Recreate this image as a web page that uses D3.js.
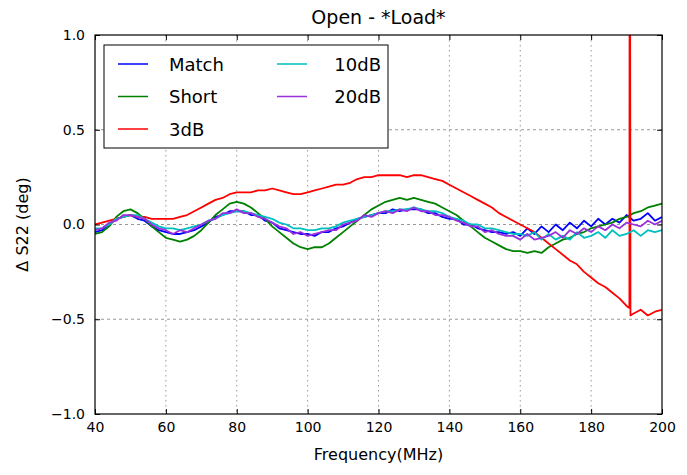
<!DOCTYPE html>
<html>
<head>
<meta charset="utf-8">
<script src="https://cdn.jsdelivr.net/npm/d3@7"></script>
<style>
  body { margin: 0; background: #fff; }
  svg text { font-family: "DejaVu Sans", sans-serif; fill: #000; }
</style>
</head>
<body>
<div class="chart"></div>
<script>
// sample grid, MHz
var freqs = d3.range(40, 201, 2);

var match = [
  -0.04,-0.03,0.00,0.03,0.04,0.05,0.03,0.02,-0.01,-0.03,
  -0.04,-0.05,-0.05,-0.04,-0.03,-0.01,0.01,0.04,0.05,0.07,
  0.07,0.07,0.05,0.05,0.02,0.01,-0.02,-0.03,-0.04,-0.05,
  -0.05,-0.06,-0.04,-0.04,-0.02,-0.01,0.01,0.03,0.04,0.05,
  0.06,0.06,0.08,0.07,0.08,0.08,0.08,0.06,0.06,0.04,
  0.03,0.03,0.00,0.00,-0.02,-0.03,-0.04,-0.04,-0.05,-0.04,
  -0.06,-0.02,-0.05,-0.01,-0.04,0.00,-0.03,0.01,-0.02,0.02,
  -0.01,0.03,0.00,0.03,0.01,0.05,0.02,0.03,0.06,0.02,
  0.04
];
var short = [
  -0.05,-0.04,-0.01,0.04,0.07,0.08,0.06,0.03,-0.01,-0.04,
  -0.07,-0.08,-0.09,-0.08,-0.06,-0.03,0.01,0.05,0.08,0.11,
  0.12,0.11,0.09,0.06,0.03,-0.01,-0.04,-0.07,-0.10,-0.12,
  -0.13,-0.12,-0.12,-0.10,-0.07,-0.04,-0.01,0.02,0.05,0.08,
  0.10,0.12,0.13,0.14,0.13,0.14,0.13,0.12,0.11,0.09,
  0.07,0.05,0.02,-0.01,-0.04,-0.07,-0.09,-0.11,-0.13,-0.14,
  -0.14,-0.15,-0.14,-0.15,-0.12,-0.10,-0.08,-0.07,-0.05,-0.04,
  -0.02,-0.01,0.00,0.01,0.03,0.04,0.06,0.07,0.09,0.10,
  0.11
];
var db3 = [
  0.00,0.01,0.02,0.03,0.04,0.05,0.04,0.04,0.03,0.03,
  0.03,0.03,0.04,0.05,0.07,0.09,0.11,0.13,0.14,0.16,
  0.17,0.17,0.17,0.18,0.18,0.19,0.18,0.17,0.16,0.16,
  0.17,0.18,0.19,0.20,0.21,0.21,0.22,0.24,0.25,0.25,
  0.26,0.26,0.26,0.26,0.25,0.26,0.26,0.25,0.24,0.23,
  0.21,0.19,0.17,0.15,0.13,0.11,0.09,0.06,0.04,0.02,
  0.00,-0.02,-0.04,-0.07,-0.10,-0.13,-0.16,-0.19,-0.21,-0.25,
  -0.28,-0.31,-0.33,-0.36,-0.39,-0.43,-0.47,-0.45,-0.48,-0.46,
  -0.45
];
var db10 = [
  -0.02,-0.02,0.00,0.03,0.04,0.05,0.05,0.03,0.01,-0.01,
  -0.02,-0.02,-0.03,-0.02,-0.01,0.00,0.02,0.03,0.05,0.06,
  0.07,0.07,0.06,0.05,0.04,0.03,0.01,0.00,-0.02,-0.02,
  -0.03,-0.03,-0.02,-0.02,-0.01,0.01,0.02,0.03,0.04,0.05,
  0.06,0.07,0.07,0.08,0.08,0.09,0.08,0.07,0.07,0.06,
  0.04,0.03,0.02,0.00,0.00,-0.02,-0.02,-0.03,-0.04,-0.05,
  -0.05,-0.06,-0.04,-0.08,-0.05,-0.08,-0.06,-0.08,-0.04,-0.07,
  -0.06,-0.04,-0.07,-0.03,-0.06,-0.05,-0.03,-0.06,-0.03,-0.04,
  -0.03
];
var db20 = [
  -0.03,-0.02,0.01,0.02,0.05,0.05,0.04,0.03,0.00,-0.02,
  -0.03,-0.05,-0.03,-0.04,-0.02,0.00,0.02,0.03,0.06,0.06,
  0.08,0.06,0.06,0.04,0.03,0.01,-0.01,-0.02,-0.05,-0.04,
  -0.06,-0.05,-0.04,-0.03,-0.03,0.00,0.01,0.02,0.05,0.04,
  0.06,0.07,0.06,0.08,0.07,0.09,0.07,0.07,0.05,0.05,
  0.04,0.02,0.01,-0.01,-0.01,-0.04,-0.03,-0.05,-0.06,-0.06,
  -0.08,-0.05,-0.08,-0.07,-0.06,-0.04,-0.07,-0.03,-0.05,-0.02,
  -0.04,-0.01,-0.03,0.00,-0.02,0.01,0.00,-0.01,0.02,0.00,
  0.02
];
// the glitch in the 3dB trace near 191 MHz
var spikeFreq = [190.8, 190.9, 191.1];
var spikeVals = [-0.44, 3.0, -0.48];

var seriesNames = ['Match', 'Short', '3dB', '10dB', '20dB'];
var seriesColors = ['#0000ff', '#008000', '#ff0000', '#00bfbf', '#9a2fdc'];
var xTicks = [40, 60, 80, 100, 120, 140, 160, 180, 200];
var yTicks = [-1.0, -0.5, 0.0, 0.5, 1.0];

var width = 687, height = 475,
    margin = { top: 35, right: 25, bottom: 61, left: 95 },
    innerW = width - margin.left - margin.right,
    innerH = height - margin.top - margin.bottom;

var svg = d3.select('.chart').append('svg')
    .attr('width', width)
    .attr('height', height);

var x = d3.scaleLinear().domain([40, 200]).range([0, innerW]);
var y = d3.scaleLinear().domain([-1, 1]).range([innerH, 0]);

var g = svg.append('g')
    .attr('transform', 'translate(' + margin.left + ',' + margin.top + ')');

svg.append('defs').append('clipPath').attr('id', 'plotclip')
  .append('rect').attr('width', innerW).attr('height', innerH);

// grid
g.append('g').selectAll('line').data(xTicks.slice(1, -1)).enter().append('line')
    .attr('x1', function (d) { return x(d); })
    .attr('x2', function (d) { return x(d); })
    .attr('y1', 0).attr('y2', innerH)
    .attr('stroke', '#999').attr('stroke-width', 1).attr('stroke-dasharray', '1.5,3.5');
g.append('g').selectAll('line').data(yTicks.slice(1, -1)).enter().append('line')
    .attr('y1', function (d) { return y(d); })
    .attr('y2', function (d) { return y(d); })
    .attr('x1', 0).attr('x2', innerW)
    .attr('stroke', '#999').attr('stroke-width', 1).attr('stroke-dasharray', '3,3');

// lines
var redPts = freqs.map(function (f, i) { return [f, db3[i]]; })
    .concat(spikeFreq.map(function (f, i) { return [f, spikeVals[i]]; }))
    .sort(function (a, b) { return a[0] - b[0]; });

var allSeries = [
  freqs.map(function (f, i) { return [f, match[i]]; }),
  freqs.map(function (f, i) { return [f, short[i]]; }),
  redPts,
  freqs.map(function (f, i) { return [f, db10[i]]; }),
  freqs.map(function (f, i) { return [f, db20[i]]; })
];

var line = d3.line()
    .x(function (d) { return x(d[0]); })
    .y(function (d) { return y(d[1]); });

g.append('g').attr('clip-path', 'url(#plotclip)')
  .selectAll('path').data(allSeries).enter().append('path')
    .attr('d', line)
    .attr('fill', 'none')
    .attr('stroke', function (d, i) { return seriesColors[i]; })
    .attr('stroke-width', 1.8)
    .attr('stroke-linejoin', 'round');

// axes, matplotlib classic style: inward ticks on every side
var fmtY = function (d) { return d3.format('.1f')(d).replace('-', '\u2212'); };

var xBottom = g.append('g').attr('transform', 'translate(0,' + innerH + ')')
    .call(d3.axisBottom(x).tickValues(xTicks).tickSizeInner(-5).tickSizeOuter(0).tickPadding(8));
var xTop = g.append('g')
    .call(d3.axisTop(x).tickValues(xTicks).tickSizeInner(-5).tickSizeOuter(0).tickFormat(''));
var yLeft = g.append('g')
    .call(d3.axisLeft(y).tickValues(yTicks).tickFormat(fmtY).tickSizeInner(-5).tickSizeOuter(0).tickPadding(10));
var yRight = g.append('g').attr('transform', 'translate(' + innerW + ',0)')
    .call(d3.axisRight(y).tickValues(yTicks).tickSizeInner(-5).tickSizeOuter(0).tickFormat(''));

[xBottom, xTop, yLeft, yRight].forEach(function (a) {
  a.select('.domain').remove();
  a.selectAll('text').attr('font-size', '14px').attr('fill', '#000')
      .attr('font-family', '"DejaVu Sans", sans-serif');
  a.selectAll('line').attr('stroke', '#000');
});

g.append('rect')
    .attr('width', innerW).attr('height', innerH)
    .attr('fill', 'none').attr('stroke', '#000').attr('stroke-width', 1.2);

// labels
svg.append('text')
    .attr('x', margin.left + innerW / 2).attr('y', 24)
    .attr('text-anchor', 'middle').attr('font-size', '19px')
    .text('Open - *Load*');

svg.append('text')
    .attr('x', margin.left + innerW / 2).attr('y', 460)
    .attr('text-anchor', 'middle').attr('font-size', '16px')
    .text('Frequency(MHz)');

svg.append('text')
    .attr('transform', 'translate(28,' + (margin.top + innerH / 2) + ') rotate(-90)')
    .attr('text-anchor', 'middle').attr('font-size', '16px')
    .text('\u0394 S22 (deg)');

// legend
var legend = svg.append('g').attr('class', 'legend')
    .attr('transform', 'translate(104,45)');

legend.append('rect')
    .attr('width', 284).attr('height', 103)
    .attr('fill', '#fff').attr('stroke', '#000').attr('stroke-width', 1);

var legItems = legend.selectAll('.item').data(seriesNames).enter().append('g')
    .attr('class', 'item')
    .attr('transform', function (d, i) {
      var col = i < 3 ? 0 : 1, row = i < 3 ? i : i - 3;
      return 'translate(' + (14 + col * 159) + ',' + (19 + row * 32.5) + ')';
    });

legItems.append('line')
    .attr('x1', 0).attr('x2', 30).attr('y1', 0).attr('y2', 0)
    .attr('stroke', function (d, i) { return seriesColors[i]; })
    .attr('stroke-width', 1.5);

legItems.append('text')
    .attr('x', function (d, i) { return i < 3 ? 51 : 104; })
    .attr('y', 6.5)
    .attr('font-size', '18px')
    .attr('text-anchor', function (d, i) { return i < 3 ? 'start' : 'end'; })
    .text(function (d) { return d; });
</script>
</body>
</html>
